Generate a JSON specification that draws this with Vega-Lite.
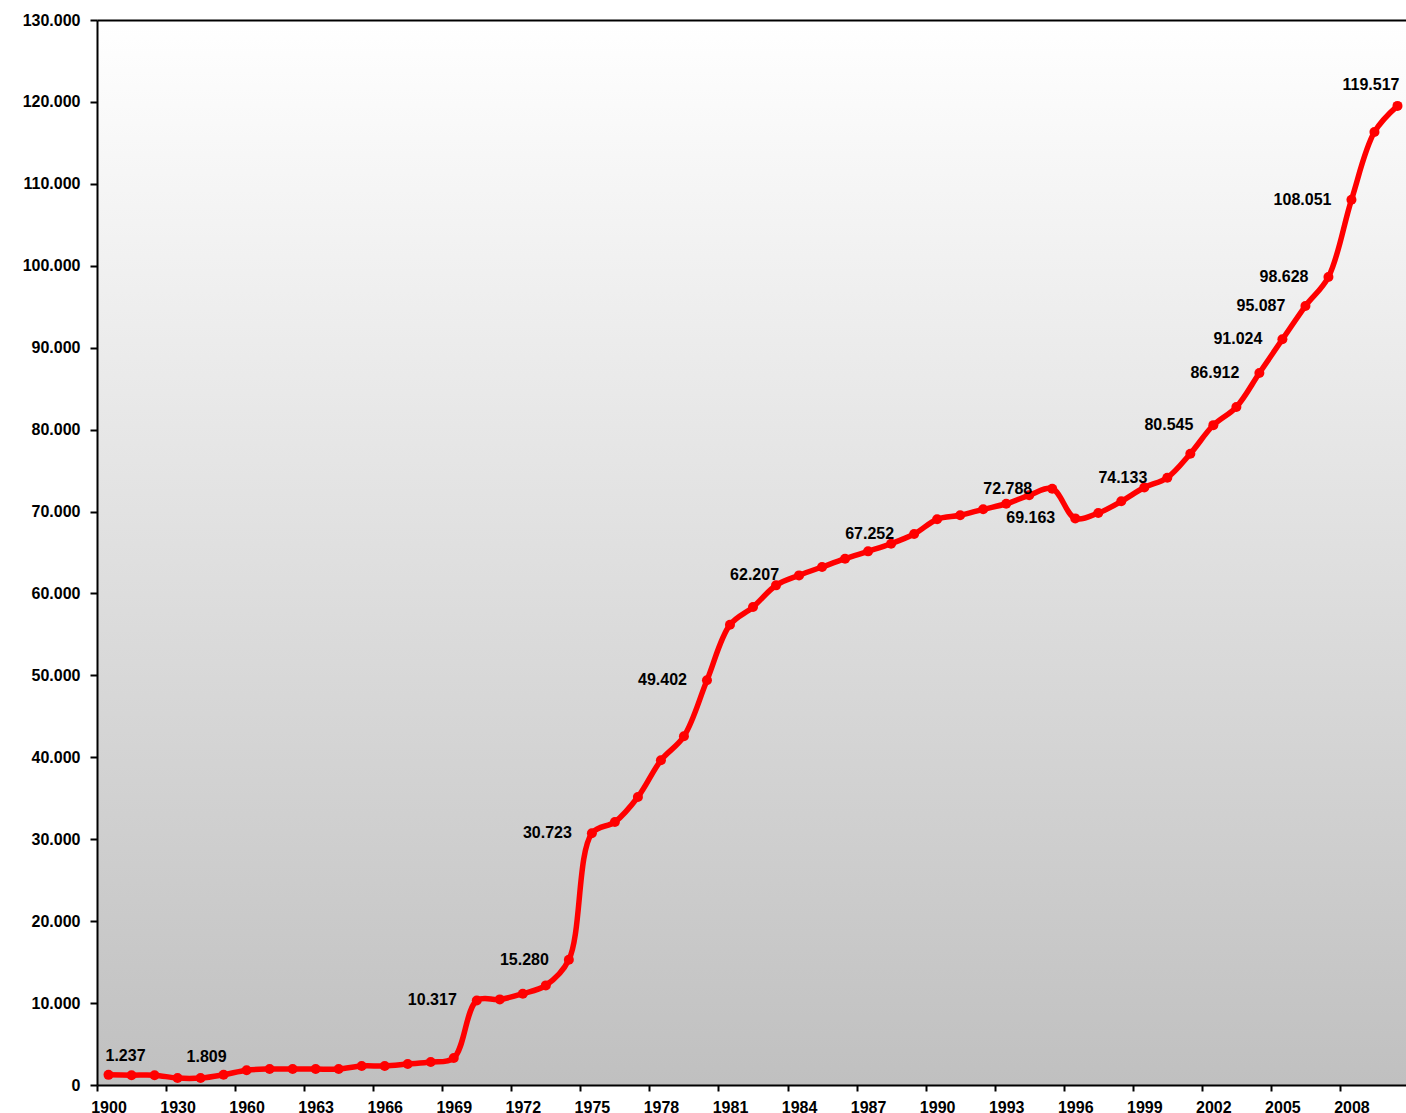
{
  "$schema": "https://vega.github.io/schema/vega-lite/v6.json",
  "width": 1309,
  "height": 1065,
  "autosize": {"type": "none"},
  "padding": {"left": 97, "top": 20, "right": 0, "bottom": 28},
  "background": "white",
  "config": {
    "locale": {"number": {"decimal": ",", "thousands": ".", "grouping": [3], "currency": ["", ""]}},
    "view": {
      "stroke": null,
      "fill": {"gradient": "linear", "x1": 0, "y1": 0, "x2": 0, "y2": 1,
        "stops": [{"offset": 0, "color": "#ffffff"}, {"offset": 1, "color": "#c0c0c0"}]}
    },
    "font": "Liberation Sans",
    "axis": {"grid": false, "domainColor": "#000000", "domainWidth": 2, "tickColor": "#000000", "tickWidth": 2,
      "labelColor": "#000000", "labelFont": "Liberation Sans", "labelFontWeight": "bold", "title": null}
  },
  "data": {"values": [
    {"year": "1900", "value": 1237}, {"year": "1910", "value": 1200}, {"year": "1920", "value": 1200},
    {"year": "1930", "value": 850}, {"year": "1940", "value": 850}, {"year": "1950", "value": 1250},
    {"year": "1960", "value": 1809}, {"year": "1961", "value": 1950}, {"year": "1962", "value": 1950},
    {"year": "1963", "value": 1950}, {"year": "1964", "value": 1950}, {"year": "1965", "value": 2320},
    {"year": "1966", "value": 2320}, {"year": "1967", "value": 2560}, {"year": "1968", "value": 2800},
    {"year": "1969", "value": 3290}, {"year": "1970", "value": 10317}, {"year": "1971", "value": 10450},
    {"year": "1972", "value": 11140}, {"year": "1973", "value": 12160}, {"year": "1974", "value": 15280},
    {"year": "1975", "value": 30723}, {"year": "1976", "value": 32100}, {"year": "1977", "value": 35150},
    {"year": "1978", "value": 39630}, {"year": "1979", "value": 42560}, {"year": "1980", "value": 49402},
    {"year": "1981", "value": 56180}, {"year": "1982", "value": 58340}, {"year": "1983", "value": 60990},
    {"year": "1984", "value": 62207}, {"year": "1985", "value": 63230}, {"year": "1986", "value": 64240},
    {"year": "1987", "value": 65140}, {"year": "1988", "value": 66070}, {"year": "1989", "value": 67252},
    {"year": "1990", "value": 69050}, {"year": "1991", "value": 69540}, {"year": "1992", "value": 70270},
    {"year": "1993", "value": 70950}, {"year": "1994", "value": 71980}, {"year": "1995", "value": 72788},
    {"year": "1996", "value": 69163}, {"year": "1997", "value": 69820}, {"year": "1998", "value": 71250},
    {"year": "1999", "value": 72930}, {"year": "2000", "value": 74133}, {"year": "2001", "value": 77060},
    {"year": "2002", "value": 80545}, {"year": "2003", "value": 82760}, {"year": "2004", "value": 86912},
    {"year": "2005", "value": 91024}, {"year": "2006", "value": 95087}, {"year": "2007", "value": 98628},
    {"year": "2008", "value": 108051}, {"year": "2009", "value": 116330}, {"year": "2010", "value": 119517}
  ]},
  "encoding": {
    "x": {"field": "year", "type": "ordinal", "scale": {"type": "point", "padding": 0.5, "range": [0, 1312]}},
    "y": {"field": "value", "type": "quantitative", "scale": {"domain": [0, 130000], "nice": false},
      "axis": {"values": [0, 10000, 20000, 30000, 40000, 50000, 60000, 70000, 80000, 90000, 100000, 110000, 120000, 130000],
        "format": ",d", "tickSize": 7, "labelPadding": 10, "labelFontSize": 16}}
  },
  "layer": [
    {
      "mark": {"type": "line", "color": "#ff0000", "strokeWidth": 5.5, "interpolate": "catmull-rom"},
      "encoding": {
        "x": {"field": "year", "type": "ordinal",
          "axis": {"orient": "bottom", "values": ["1900","1930","1960","1963","1966","1969","1972","1975","1978","1981","1984","1987","1990","1993","1996","1999","2002","2005","2008"],
            "labelAngle": 0, "tickSize": 6, "labelPadding": 8, "labelFontSize": 16, "tickOffset": -11.51, "labelOffset": 11.51}}
      }
    },
    {
      "mark": {"type": "point", "filled": true, "color": "#ff0000", "opacity": 1, "size": 100},
      "encoding": {
        "x": {"field": "year", "type": "ordinal",
          "axis": {"orient": "top", "labels": false, "ticks": false, "domain": true}}
      }
    },
    {
      "transform": [{"filter": {"field": "year", "oneOf": ["1970","1974","1975","1980","1984","1989","1995","1996","2000","2002","2004","2005","2006","2007","2008"]}}],
      "mark": {"type": "text", "align": "right", "baseline": "middle", "dx": -20, "dy": 0, "fontSize": 16, "fontWeight": "bold", "font": "Liberation Sans", "color": "#000000"},
      "encoding": {
        "x": {"field": "year", "type": "ordinal", "axis": null},
        "text": {"field": "value", "type": "quantitative", "format": ",d"}
      }
    },
    {
      "transform": [{"filter": {"field": "year", "oneOf": ["1900"]}}],
      "mark": {"type": "text", "align": "left", "baseline": "middle", "dx": -3, "dy": -19, "fontSize": 16, "fontWeight": "bold", "font": "Liberation Sans", "color": "#000000"},
      "encoding": {
        "x": {"field": "year", "type": "ordinal", "axis": null},
        "text": {"field": "value", "type": "quantitative", "format": ",d"}
      }
    },
    {
      "transform": [{"filter": {"field": "year", "oneOf": ["1960"]}}],
      "mark": {"type": "text", "align": "right", "baseline": "middle", "dx": -20, "dy": -13, "fontSize": 16, "fontWeight": "bold", "font": "Liberation Sans", "color": "#000000"},
      "encoding": {
        "x": {"field": "year", "type": "ordinal", "axis": null},
        "text": {"field": "value", "type": "quantitative", "format": ",d"}
      }
    },
    {
      "transform": [{"filter": {"field": "year", "oneOf": ["2010"]}}],
      "mark": {"type": "text", "align": "right", "baseline": "middle", "dx": 2, "dy": -21, "fontSize": 16, "fontWeight": "bold", "font": "Liberation Sans", "color": "#000000"},
      "encoding": {
        "x": {"field": "year", "type": "ordinal", "axis": null},
        "text": {"field": "value", "type": "quantitative", "format": ",d"}
      }
    }
  ],
  "resolve": {"axis": {"x": "independent"}}
}
